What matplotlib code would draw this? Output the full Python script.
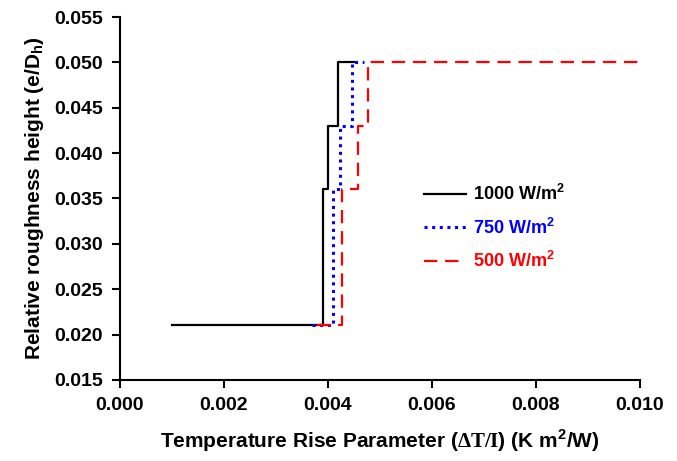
import numpy as np
import matplotlib
matplotlib.use('Agg')
import matplotlib.pyplot as plt

plt.rcParams['font.family'] = ['Liberation Sans', 'DejaVu Sans']
plt.rcParams['font.weight'] = 'bold'
plt.rcParams['mathtext.fontset'] = 'custom'
plt.rcParams['mathtext.rm'] = 'Liberation Serif'
plt.rcParams['mathtext.bf'] = 'Liberation Sans:bold'

# step curves: x where each level starts, level value
x_1000 = [0.0010, 0.0039, 0.0040, 0.0042, 0.0045]
y_1000 = [0.021, 0.036, 0.043, 0.050, 0.050]
x_750 = [0.0037, 0.0041, 0.00423, 0.00446, 0.0047]
y_750 = [0.021, 0.036, 0.043, 0.050, 0.050]
x_500 = [0.0038, 0.00428, 0.00458, 0.00478, 0.0100]
y_500 = [0.021, 0.036, 0.043, 0.050, 0.050]

labels = [r'1000 W/m$^{\mathbf{2}}$', r'750 W/m$^{\mathbf{2}}$', r'500 W/m$^{\mathbf{2}}$']

fig = plt.figure(figsize=(6.77, 4.61), dpi=100)
ax = fig.add_axes([0.177, 0.176, 0.768, 0.787])

ax.plot(x_1000, y_1000, drawstyle='steps-post', color='black', lw=1.6, label=labels[0])
ax.plot(x_750, y_750, drawstyle='steps-post', color='#0000ff', lw=2.2, ls=(0, (1, 1.5)), label=labels[1])
ax.plot(x_500, y_500, drawstyle='steps-post', color='#ff0000', lw=1.6, ls=(0, (6, 3.5)), label=labels[2])

ax.set_xlim(0, 0.010)
ax.set_ylim(0.015, 0.055)
ax.set_xticks(np.arange(0, 0.0101, 0.002))
ax.set_yticks(np.arange(0.015, 0.0551, 0.005))
ax.xaxis.set_major_formatter(plt.FormatStrFormatter('%.3f'))
ax.yaxis.set_major_formatter(plt.FormatStrFormatter('%.3f'))

for s in ['top', 'right']:
    ax.spines[s].set_visible(False)
for s in ['left', 'bottom']:
    ax.spines[s].set_linewidth(1.5)
ax.tick_params(direction='out', length=6, width=1.5, labelsize=14, pad=6)

ax.set_xlabel(r'Temperature Rise Parameter ($\mathrm{\Delta T/I}$) (K m$^{\mathbf{2}}$/W)',
              fontsize=15, fontweight='bold', labelpad=10)
ax.set_ylabel(r'Relative roughness height (e/D$_{\mathbf{h}}$)', fontsize=15, fontweight='bold', labelpad=6)

leg = ax.legend(loc='center left', bbox_to_anchor=(0.572, 0.42), frameon=False,
                fontsize=13, handlelength=2.3, handletextpad=0.4, labelspacing=0.75,
                borderaxespad=0, labelcolor='linecolor')
for t in leg.get_texts():
    t.set_fontweight('bold')

fig.savefig('out.png', dpi=100)
